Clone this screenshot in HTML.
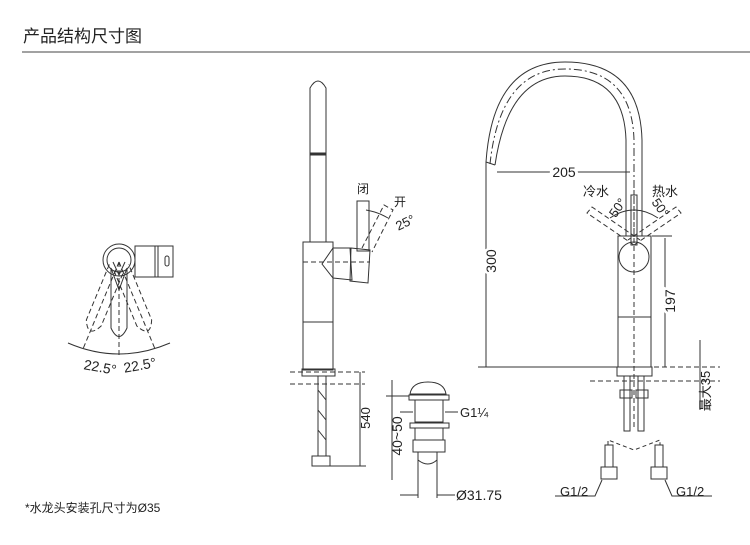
<!DOCTYPE html>
<html><head><meta charset="utf-8"><style>
html,body{margin:0;padding:0;background:#fff}
svg{display:block}
text{font-family:"Liberation Sans","Noto Sans CJK SC",sans-serif;fill:#222}
</style></head><body>
<svg width="750" height="545" viewBox="0 0 750 545" xmlns="http://www.w3.org/2000/svg">
<rect width="750" height="545" fill="#fff"/>
<text x="23" y="42" font-size="17" fill="#222">产品结构尺寸图</text>
<line x1="22" y1="52" x2="750" y2="52" stroke="#444" stroke-width="1"/>

<g fill="none" stroke="#333" stroke-width="1">
<!-- LEFT top view -->
<circle cx="119" cy="260" r="16"/>
<circle cx="119" cy="260" r="12"/>
<rect x="135" y="246" width="38" height="31"/>
<line x1="155" y1="246" x2="155" y2="277"/>
<line x1="158" y1="246" x2="158" y2="277"/>
<rect x="165" y="256" width="4" height="10" rx="2"/>
<path d="M111 268 L111 328 Q119 345 127 328 L127 268"/>
<g stroke-dasharray="5,3">
<path d="M111 268 L111 328 Q119 345 127 328 L127 268" transform="rotate(22.5 119 262)"/>
<path d="M111 268 L111 328 Q119 345 127 328 L127 268" transform="rotate(-22.5 119 262)"/>
<line x1="119" y1="262" x2="119" y2="358"/>
<line x1="119" y1="262" x2="119" y2="358" transform="rotate(22.5 119 262)"/>
<line x1="119" y1="262" x2="119" y2="358" transform="rotate(-22.5 119 262)"/>
</g>
<path d="M68 343 Q119 365 170 343"/>
<path d="M111 268 L119 290 L127 268 M113 262 L119 275 L125 262" />

<!-- MIDDLE side view -->
<path d="M310 242 L310 88 Q318 74 326 88 L326 242"/>
<line x1="310" y1="154" x2="326" y2="154" stroke-width="3"/>
<rect x="303" y="242" width="30" height="128"/>
<line x1="303" y1="322" x2="333" y2="322"/>
<rect x="302" y="369" width="33" height="7"/>
<path d="M333 248 L350 248 L352 280 L333 278 L322 264 Z"/>
<path d="M351 248 L370 250 L368 283 L350 281 Z"/>
<rect x="357" y="201" width="12" height="50"/>
<g stroke-dasharray="5,3">
<path d="M362 248 L384 205 L393 210 L372 252"/>
<line x1="303" y1="262" x2="370" y2="262"/>
<line x1="290" y1="372" x2="365" y2="372"/>
<line x1="290" y1="384" x2="365" y2="384"/>
</g>
<path d="M366 210 Q378 212 388 218"/>
<rect x="318" y="376" width="8" height="80"/>
<path d="M318 390 L326 400 M318 410 L326 420 M318 430 L326 440" />
<rect x="312" y="456" width="18" height="10"/>
<line x1="360" y1="372" x2="360" y2="466"/>
<line x1="330" y1="466" x2="366" y2="466"/>

<!-- DRAIN -->
<path d="M410 394 Q412 382 428 382 Q444 382 446 394 Z"/>
<rect x="409" y="395" width="40" height="5"/>
<rect x="415" y="400" width="28" height="22"/>
<rect x="410" y="423" width="39" height="5"/>
<rect x="415" y="428" width="28" height="12"/>
<rect x="413" y="440" width="32" height="12"/>
<path d="M418 452 L418 498 M437 452 L437 498"/>
<path d="M418 460 Q428 468 437 460"/>
<line x1="392" y1="380" x2="392" y2="480"/>
<line x1="386" y1="396" x2="409" y2="396"/>
<line x1="400" y1="412" x2="413" y2="412"/>
<line x1="445" y1="412" x2="458" y2="412"/>
<line x1="400" y1="495" x2="418" y2="495"/>
<line x1="437" y1="495" x2="455" y2="495"/>

<!-- RIGHT front view -->
<path d="M626 236 L626 140 Q624 76 565 76 Q508 76 495 165"/>
<path d="M642 236 L642 140 Q640 62 565 62 Q493 62 486 162"/>
<path d="M486 162 L495 165"/>
<path d="M634 236 L634 140 Q632 69 565 69 Q500 69 490 164" stroke-dasharray="8,3,2,3"/>
<rect x="618" y="236" width="33" height="131"/>
<circle cx="634" cy="257" r="15"/>
<line x1="618" y1="317" x2="651" y2="317"/>
<rect x="617" y="367" width="35" height="9"/>
<rect x="631" y="195" width="6" height="50"/>
<g stroke-dasharray="5,3">
<line x1="634" y1="190" x2="634" y2="430"/>
<path d="M634 245 L587 213 L592 207 L640 240"/>
<path d="M634 245 L681 213 L676 207 L628 240"/>
<line x1="590" y1="381" x2="720" y2="381"/>
<line x1="590" y1="367" x2="720" y2="367"/>
</g>
<path d="M610 218 Q634 202 658 218"/>
<line x1="486" y1="162" x2="486" y2="367"/>
<line x1="478" y1="367" x2="615" y2="367"/>
<line x1="497" y1="172" x2="630" y2="172"/>
<line x1="665" y1="238" x2="665" y2="367"/>
<line x1="652" y1="236" x2="672" y2="236"/>
<line x1="700" y1="340" x2="700" y2="410"/>
<rect x="624" y="376" width="6" height="55"/>
<rect x="638" y="376" width="6" height="55"/>
<rect x="620" y="390" width="12" height="8"/>
<rect x="636" y="390" width="12" height="8"/>
<path d="M608 445 L608 440 L634 450 L660 440 L660 445" stroke-dasharray="4,3"/>
<rect x="605" y="445" width="8" height="22"/>
<rect x="655" y="445" width="8" height="22"/>
<rect x="601" y="467" width="16" height="12"/>
<rect x="651" y="467" width="16" height="12"/>
<path d="M555 496 L595 496 L602 480 M665 480 L672 496 L712 496"/>
</g>

<text x="363" y="193" font-size="12" text-anchor="middle">闭</text>
<text x="400" y="206" font-size="12" text-anchor="middle">开</text>
<text x="405" y="227" font-size="13" text-anchor="middle" transform="rotate(-25 405 222)">25°</text>
<text x="100" y="372" font-size="14" text-anchor="middle" transform="rotate(10 100 368)">22.5°</text>
<text x="140" y="370" font-size="14" text-anchor="middle" transform="rotate(-10 140 366)">22.5°</text>
<text x="366" y="422" font-size="13" text-anchor="middle" transform="rotate(-90 366 418)">540</text>
<text x="398" y="440" font-size="14" text-anchor="middle" transform="rotate(-90 398 436)">40~50</text>
<text x="460" y="417" font-size="13">G1¼</text>
<text x="456" y="500" font-size="14">Ø31.75</text>
<text x="564" y="177" font-size="14" text-anchor="middle" style="paint-order:stroke" stroke="#fff" stroke-width="6">205</text>
<text x="492" y="265" font-size="14" text-anchor="middle" transform="rotate(-90 492 261)" style="paint-order:stroke" stroke="#fff" stroke-width="5">300</text>
<text x="671" y="305" font-size="14" text-anchor="middle" transform="rotate(-90 671 301)" style="paint-order:stroke" stroke="#fff" stroke-width="5">197</text>
<text x="596" y="196" font-size="13" text-anchor="middle">冷水</text>
<text x="665" y="196" font-size="13" text-anchor="middle">热水</text>
<text x="618" y="212" font-size="13" text-anchor="middle" transform="rotate(-55 618 208)">50°</text>
<text x="660" y="212" font-size="13" text-anchor="middle" transform="rotate(55 660 208)">50°</text>
<text x="706" y="395" font-size="13" text-anchor="middle" transform="rotate(-90 706 391)">最大35</text>
<text x="560" y="496" font-size="13">G1/2</text>
<text x="676" y="496" font-size="13">G1/2</text>
<text x="25" y="512" font-size="12">*水龙头安装孔尺寸为Ø35</text>
</svg>
</body></html>
